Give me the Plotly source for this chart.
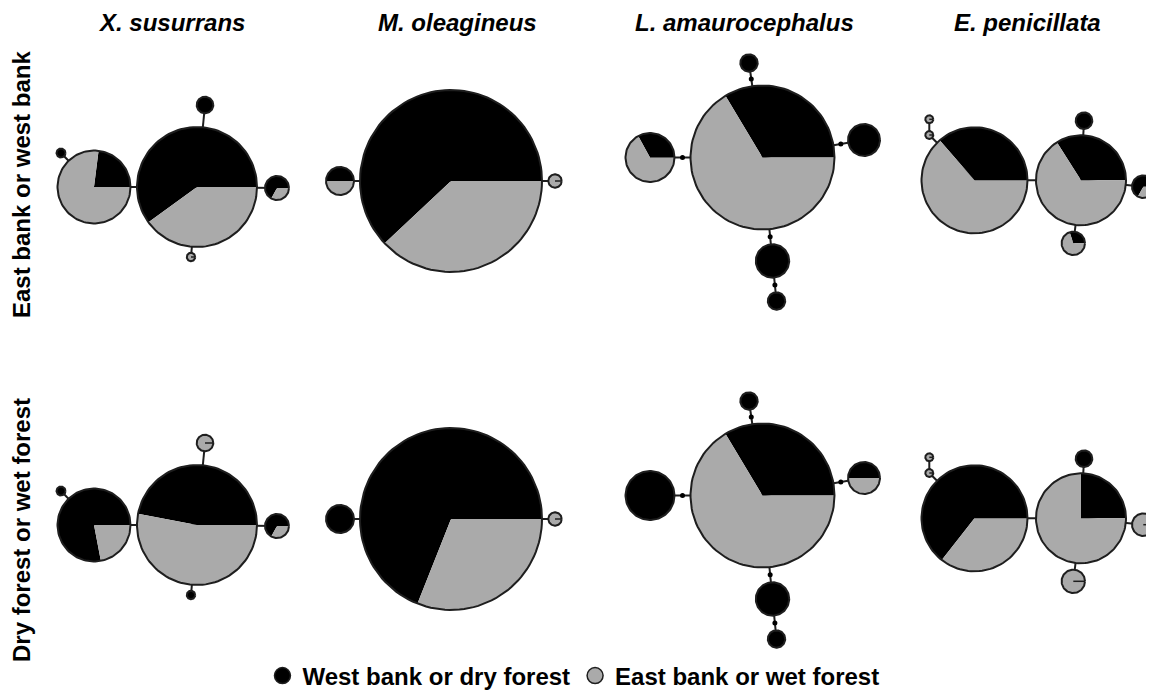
import numpy as np
import plotly.graph_objects as go

# ---------------- data ----------------
species = ["X. susurrans", "M. oleagineus", "L. amaurocephalus", "E. penicillata"]
row_labels = ["East bank or west bank", "Dry forest or wet forest"]
legend_labels = ["West bank or dry forest", "East bank or wet forest"]

# fraction of each haplotype sampled on the west bank / dry forest (rest: east bank / wet forest)
xsus_west_bank = [0.60, 0.23, 1.0, 1.0, 0.67, 0.0]
xsus_dry_forest = [0.47, 0.78, 0.0, 1.0, 0.67, 1.0]
mole_west_bank = [0.62, 0.5, 0.0]
mole_dry_forest = [0.69, 1.0, 0.0]
lama_west_bank = [0.336, 0.33, 1.0, 1.0, 1.0, 1.0]
lama_dry_forest = [0.336, 1.0, 0.5, 1.0, 1.0, 1.0]
epen_west_bank = [0.364, 0.34, 1.0, 0.67, 0.30, 0.0, 0.0]
epen_dry_forest = [0.644, 0.25, 1.0, 0.0, 0.0, 0.0, 0.0]

# network connections (haplotype index pairs) and mutation steps drawn on edges
xsus_edges = [(0, 1), (0, 2), (1, 3), (0, 4), (0, 5)]
mole_edges = [(0, 1), (0, 2)]
lama_edges = [(0, 1), (0, 2), (0, 3), (0, 4), (4, 5)]
epen_edges = [(0, 1), (1, 2), (1, 3), (1, 4), (0, 5), (5, 6)]
lama_steps = [1, 1, 1, 1, 1]

# ---------------- network layout (drawing geometry) ----------------
layout_nodes = {
    "xsus": dict(x=[197, 94, 205, 61, 277, 191], y=[187, 187, 105, 153, 188, 257],
                 r=[60, 36.5, 8.3, 4.5, 12, 4.2]),
    "mole": dict(x=[451, 340, 555], y=[181, 181, 181], r=[91, 14, 6.7]),
    "lama": dict(x=[762.5, 650, 864, 749, 772.5, 776.5], y=[157.5, 157.5, 140, 63, 261, 301],
                 r=[72, 24.5, 16, 8.7, 16.7, 8.7]),
    "epen": dict(x=[974.5, 1081, 1084, 1143.3, 1073.3, 929.3, 929.3],
                 y=[180.3, 180.3, 120.7, 186.7, 243.3, 135, 119.3],
                 r=[53, 45, 8.3, 11.3, 11.7, 4, 4]),
}
row_offset = [0, 338]
title_x = [171, 457, 744, 1027]
PAGE_PAD = 8  # default body margin of the html page

networks = [
    ("xsus", [xsus_west_bank, xsus_dry_forest], xsus_edges, None),
    ("mole", [mole_west_bank, mole_dry_forest], mole_edges, None),
    ("lama", [lama_west_bank, lama_dry_forest], lama_edges, lama_steps),
    ("epen", [epen_west_bank, epen_dry_forest], epen_edges, None),
]

BLACK = "#000000"
GRAY = "#aaaaaa"
OUTLINE = "#1e1e1e"


def arc(cx, cy, r, a0, a1, n=None):
    if n is None:
        n = max(8, int(abs(a1 - a0) / 2))
    a = np.radians(np.linspace(a0, a1, n))
    return list(cx + r * np.cos(a)), list(cy - r * np.sin(a))


bx, by, gx, gy, ox, oy, ex, ey, rx, ry, sx, sy = ([] for _ in range(12))

for key, fracs_rows, edges, steps in networks:
    nd = layout_nodes[key]
    for ri, fracs in enumerate(fracs_rows):
        dy = row_offset[ri]
        xs = nd["x"]
        ys = [v + dy for v in nd["y"]]
        rs = nd["r"]
        # edges
        for k, (i, j) in enumerate(edges):
            ex += [xs[i], xs[j], None]
            ey += [ys[i], ys[j], None]
            if steps is not None:
                d = np.hypot(xs[j] - xs[i], ys[j] - ys[i])
                ux, uy = (xs[j] - xs[i]) / d, (ys[j] - ys[i]) / d
                gap0 = rs[i]
                gap1 = d - rs[j]
                for s in range(steps[k]):
                    t = gap0 + (gap1 - gap0) * (s + 1) / (steps[k] + 1)
                    sx.append(xs[i] + ux * t)
                    sy.append(ys[i] + uy * t)
        # pies
        for cx, cy, r, f in zip(xs, ys, rs, fracs):
            ang = 360 * f
            if f > 0:
                ax_, ay_ = arc(cx, cy, r, 0, ang)
                if f < 1:
                    bx += [cx] + ax_ + [cx, None]
                    by += [cy] + ay_ + [cy, None]
                else:
                    bx += ax_ + [None]
                    by += ay_ + [None]
            if f < 1:
                ax_, ay_ = arc(cx, cy, r, ang, 360)
                if f > 0:
                    gx += [cx] + ax_ + [cx, None]
                    gy += [cy] + ay_ + [cy, None]
                else:
                    gx += ax_ + [None]
                    gy += ay_ + [None]
                    rx += [cx, cx + r, None]
                    ry += [cy, cy, None]
            cxs, cys = arc(cx, cy, r, 0, 360, 120)
            ox += cxs + [None]
            oy += cys + [None]

fig = go.Figure()
fig.add_trace(go.Scatter(x=ex, y=ey, mode="lines", line=dict(color=OUTLINE, width=2),
                         hoverinfo="skip", showlegend=False))
fig.add_trace(go.Scatter(x=bx, y=by, mode="lines", fill="toself", fillcolor=BLACK,
                         line=dict(width=0, color=BLACK), hoverinfo="skip", showlegend=False))
fig.add_trace(go.Scatter(x=gx, y=gy, mode="lines", fill="toself", fillcolor=GRAY,
                         line=dict(width=0, color=GRAY), hoverinfo="skip", showlegend=False))
fig.add_trace(go.Scatter(x=rx, y=ry, mode="lines", line=dict(color=OUTLINE, width=1.5),
                         hoverinfo="skip", showlegend=False))
fig.add_trace(go.Scatter(x=ox, y=oy, mode="lines", line=dict(color=OUTLINE, width=2),
                         hoverinfo="skip", showlegend=False))
fig.add_trace(go.Scatter(x=sx, y=sy, mode="markers", marker=dict(color=BLACK, size=5),
                         hoverinfo="skip", showlegend=False))

# legend entries
for lab, col in zip(legend_labels, [BLACK, GRAY]):
    fig.add_trace(go.Scatter(x=[None], y=[None], mode="markers", name="<b>" + lab + "</b>",
                             marker=dict(color=col, size=16, line=dict(color=OUTLINE, width=1.5))))

font = "Liberation Sans, Arial, sans-serif"
for name, tx in zip(species, title_x):
    fig.add_annotation(x=tx, y=22, xref="x", yref="y", text="<b><i>" + name + "</i></b>",
                       showarrow=False, font=dict(family=font, size=24, color="black"))
for lab, cy in zip(row_labels, [185, 530]):
    fig.add_annotation(x=21, y=cy, xref="x", yref="y", text="<b>" + lab + "</b>", textangle=-90,
                       showarrow=False, borderpad=0,
                       font=dict(family=font, size=24, color="black"))

W, H = 1154, 691
fig.update_layout(
    width=W, height=H,
    margin=dict(l=0, r=0, t=0, b=0),
    plot_bgcolor="white", paper_bgcolor="white",
    xaxis=dict(range=[PAGE_PAD, W + PAGE_PAD], visible=False, fixedrange=True),
    yaxis=dict(range=[H + PAGE_PAD, PAGE_PAD], visible=False, fixedrange=True),
    showlegend=True,
    legend=dict(orientation="h", x=0.49, xanchor="center", y=1 - (676 - PAGE_PAD) / H,
                yanchor="middle",
                font=dict(family=font, size=24, color="black"), bgcolor="rgba(0,0,0,0)",
                itemwidth=30, tracegroupgap=0),
)

fig.write_html("out.html", config={"displayModeBar": False})
